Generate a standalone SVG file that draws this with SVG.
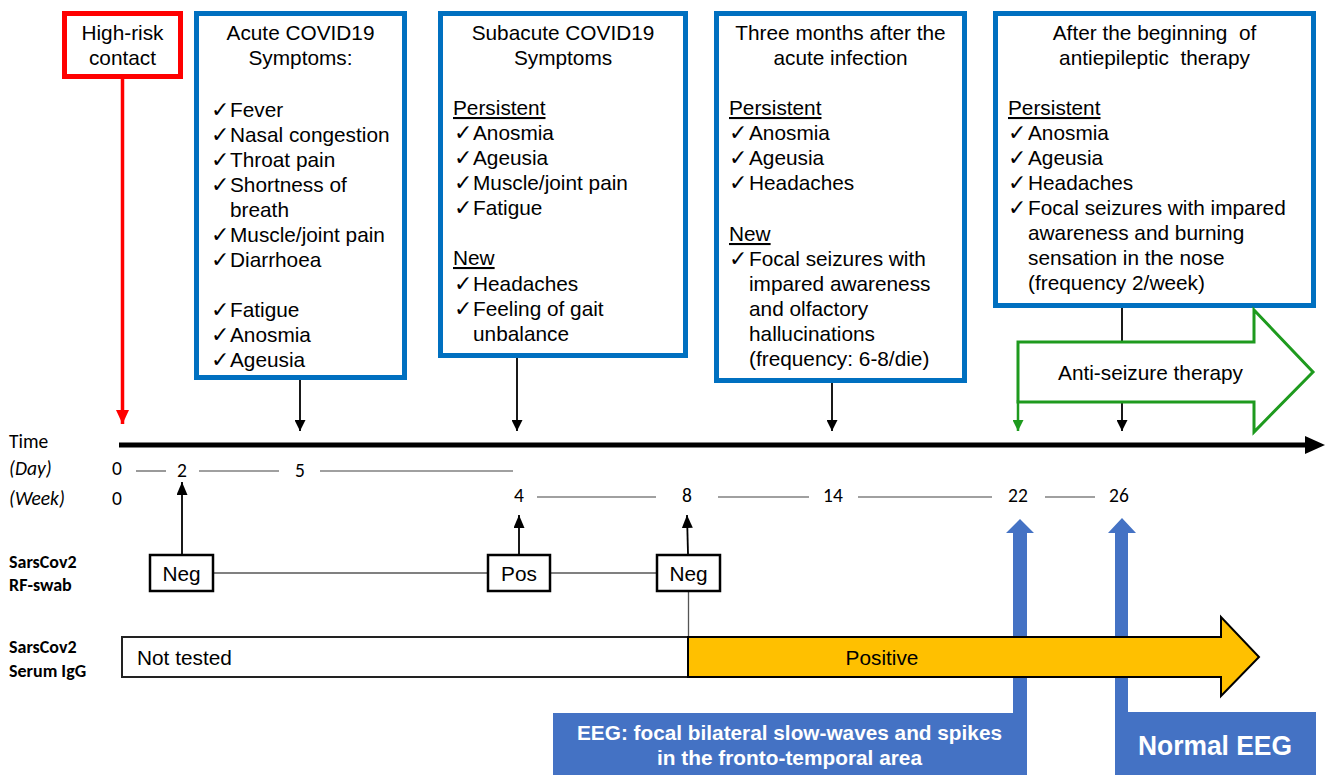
<svg xmlns="http://www.w3.org/2000/svg" width="1325" height="775" viewBox="0 0 1325 775">
<style>
  .t { font-family: "Liberation Sans", Arial, sans-serif; font-size: 20.8px; fill: #000; }
  .c { text-anchor: middle; }
  .ck { font-family: "DejaVu Sans", sans-serif; font-size: 22px; }
  .u { text-decoration: underline; }
  .pre { white-space: pre; }
  .cal { font-family: "Carlito", "Lato", "Liberation Sans", sans-serif; font-size: 19.5px; fill: #000; }
  .it { font-style: italic; }
  .lb { font-family: "Carlito", "Lato", "Liberation Sans", sans-serif; font-size: 18px; font-weight: bold; fill: #000; }
  .bluebox { fill: #fff; stroke: #0070C0; stroke-width: 5; }
  .redbox { fill: #fff; stroke: #FF0000; stroke-width: 5; }
  .swab { fill: #fff; stroke: #000; stroke-width: 2.5; }
  .dash { stroke: #808080; stroke-width: 1.6; }
  .arr { stroke: #000; stroke-width: 1.8; fill: none; }
  .eeg { fill: #4472C4; }
  .wt { font-family: "Liberation Sans Narrow", "Liberation Sans", Arial, sans-serif; font-weight: bold; fill: #fff; }
</style>
<defs>
  <marker id="ah" markerUnits="userSpaceOnUse" markerWidth="11" markerHeight="11" refX="10" refY="5" orient="auto" viewBox="0 0 10 10">
    <path d="M0,0 L10,5 L0,10 z" fill="#000"/>
  </marker>
  <marker id="ahu" markerUnits="userSpaceOnUse" markerWidth="13" markerHeight="11" refX="13" refY="5.5" orient="auto" viewBox="0 0 13 11">
    <path d="M0,0 L13,5.5 L0,11 z" fill="#000"/>
  </marker>
  <marker id="ahr" markerUnits="userSpaceOnUse" markerWidth="14" markerHeight="13" refX="14" refY="6.5" orient="auto" viewBox="0 0 14 13">
    <path d="M0,0 L14,6.5 L0,13 z" fill="#FF0000"/>
  </marker>
  <marker id="ahg" markerUnits="userSpaceOnUse" markerWidth="11" markerHeight="11" refX="10" refY="5" orient="auto" viewBox="0 0 10 10">
    <path d="M0,0 L10,5 L0,10 z" fill="#1E9A1E"/>
  </marker>
</defs>
<rect width="1325" height="775" fill="#fff"/>

<g id="connectors">
  <line x1="122.5" y1="79" x2="122.5" y2="424" stroke="#FF0000" stroke-width="3.5" marker-end="url(#ahr)"/>
  <line class="arr" x1="300" y1="380" x2="300" y2="431" marker-end="url(#ah)"/>
  <line class="arr" x1="517" y1="358" x2="517" y2="431" marker-end="url(#ah)"/>
  <line class="arr" x1="832" y1="383" x2="832" y2="431" marker-end="url(#ah)"/>
  <line class="arr" x1="1122" y1="308" x2="1122" y2="431" marker-end="url(#ah)"/>
  <line x1="1018" y1="400" x2="1018" y2="431" stroke="#1E9A1E" stroke-width="2.5" marker-end="url(#ahg)"/>
  <line class="arr" stroke-width="2" x1="182" y1="554" x2="182" y2="482" marker-end="url(#ahu)"/>
  <line class="arr" stroke-width="2" x1="519" y1="554" x2="519" y2="515" marker-end="url(#ahu)"/>
  <line class="arr" stroke-width="2" x1="688" y1="554" x2="687" y2="515" marker-end="url(#ahu)"/>
  <line x1="214" y1="573" x2="487" y2="573" stroke="#808080" stroke-width="1.8"/>
  <line x1="551" y1="573" x2="656" y2="573" stroke="#808080" stroke-width="1.8"/>
  <line x1="688.5" y1="592" x2="688.5" y2="637" stroke="#555" stroke-width="1.3"/>
</g>

<g id="high-risk">
  <rect class="redbox" x="64.5" y="13.5" width="116" height="63"/>
  <text class="t c" x="122.5" y="40">High-risk</text>
  <text class="t c" x="122.5" y="65">contact</text>
</g>

<g id="acute">
  <rect class="bluebox" x="196.5" y="13.5" width="208" height="364"/>
  <text class="t c" x="300.5" y="40">Acute COVID19</text>
  <text class="t c" x="300.5" y="65">Symptoms:</text>
  <text class="t" y="116.5"><tspan class="ck" x="211">✓</tspan><tspan x="230">Fever</tspan></text>
  <text class="t" y="141.5"><tspan class="ck" x="211">✓</tspan><tspan x="230">Nasal congestion</tspan></text>
  <text class="t" y="166.5"><tspan class="ck" x="211">✓</tspan><tspan x="230">Throat pain</tspan></text>
  <text class="t" y="191.5"><tspan class="ck" x="211">✓</tspan><tspan x="230">Shortness of</tspan></text>
  <text class="t" x="230" y="216.5">breath</text>
  <text class="t" y="241.5"><tspan class="ck" x="211">✓</tspan><tspan x="230">Muscle/joint pain</tspan></text>
  <text class="t" y="266.5"><tspan class="ck" x="211">✓</tspan><tspan x="230">Diarrhoea</tspan></text>
  <text class="t" y="316.5"><tspan class="ck" x="211">✓</tspan><tspan x="230">Fatigue</tspan></text>
  <text class="t" y="341.5"><tspan class="ck" x="211">✓</tspan><tspan x="230">Anosmia</tspan></text>
  <text class="t" y="366.5"><tspan class="ck" x="211">✓</tspan><tspan x="230">Ageusia</tspan></text>
</g>

<g id="subacute">
  <rect class="bluebox" x="440.5" y="13.5" width="245" height="342"/>
  <text class="t c" x="563" y="40">Subacute COVID19</text>
  <text class="t c" x="563" y="65">Symptoms</text>
  <text class="t u" x="453" y="115">Persistent</text>
  <text class="t" y="140"><tspan class="ck" x="454">✓</tspan><tspan x="473">Anosmia</tspan></text>
  <text class="t" y="165"><tspan class="ck" x="454">✓</tspan><tspan x="473">Ageusia</tspan></text>
  <text class="t" y="190"><tspan class="ck" x="454">✓</tspan><tspan x="473">Muscle/joint pain</tspan></text>
  <text class="t" y="215"><tspan class="ck" x="454">✓</tspan><tspan x="473">Fatigue</tspan></text>
  <text class="t u" x="453" y="265">New</text>
  <text class="t" y="291"><tspan class="ck" x="454">✓</tspan><tspan x="473">Headaches</tspan></text>
  <text class="t" y="316"><tspan class="ck" x="454">✓</tspan><tspan x="473">Feeling of gait</tspan></text>
  <text class="t" x="473" y="341">unbalance</text>
</g>

<g id="three-months">
  <rect class="bluebox" x="716.5" y="13.5" width="248" height="367"/>
  <text class="t c" x="840.5" y="40">Three months after the</text>
  <text class="t c" x="840.5" y="65">acute infection</text>
  <text class="t u" x="729" y="115">Persistent</text>
  <text class="t" y="140"><tspan class="ck" x="729">✓</tspan><tspan x="749">Anosmia</tspan></text>
  <text class="t" y="165"><tspan class="ck" x="729">✓</tspan><tspan x="749">Ageusia</tspan></text>
  <text class="t" y="190"><tspan class="ck" x="729">✓</tspan><tspan x="749">Headaches</tspan></text>
  <text class="t u" x="729" y="241">New</text>
  <text class="t" y="266"><tspan class="ck" x="729">✓</tspan><tspan x="749">Focal seizures with</tspan></text>
  <text class="t" x="749" y="291">impared awareness</text>
  <text class="t" x="749" y="316">and olfactory</text>
  <text class="t" x="749" y="341">hallucinations</text>
  <text class="t" x="749" y="366">(frequency: 6-8/die)</text>
</g>

<g id="after-therapy">
  <rect class="bluebox" x="995.5" y="13.5" width="318" height="292"/>
  <text class="t c pre" x="1154.5" y="40">After the beginning  of</text>
  <text class="t c pre" x="1154.5" y="65">antiepileptic  therapy</text>
  <text class="t u" x="1008" y="115">Persistent</text>
  <text class="t" y="140"><tspan class="ck" x="1008">✓</tspan><tspan x="1028">Anosmia</tspan></text>
  <text class="t" y="165"><tspan class="ck" x="1008">✓</tspan><tspan x="1028">Ageusia</tspan></text>
  <text class="t" y="190"><tspan class="ck" x="1008">✓</tspan><tspan x="1028">Headaches</tspan></text>
  <text class="t" y="215"><tspan class="ck" x="1008">✓</tspan><tspan x="1028">Focal seizures with impared</tspan></text>
  <text class="t" x="1028" y="240">awareness and burning</text>
  <text class="t" x="1028" y="265">sensation in the nose</text>
  <text class="t" x="1028" y="290">(frequency 2/week)</text>
</g>

<g id="anti-seizure">
  <path d="M1018,342 H1254 V310 L1313,372 L1254,432 V402 H1018 Z" fill="#fff" stroke="#1E9A1E" stroke-width="3" stroke-linejoin="miter"/>
  <text class="t c" x="1150.5" y="380">Anti-seizure therapy</text>
</g>

<g id="timeline">
  <line x1="119" y1="445" x2="1308" y2="445" stroke="#000" stroke-width="5"/>
  <polygon points="1305,436 1325,445 1305,454" fill="#000"/>
  <text class="cal" x="9" y="448">Time</text>
  <text class="cal it" x="9" y="475">(Day)</text>
  <text class="cal it" x="9" y="505">(Week)</text>
  <text class="cal c" x="117" y="475">0</text>
  <text class="cal c" x="182" y="477">2</text>
  <text class="cal c" x="300" y="477">5</text>
  <line class="dash" x1="136" y1="471" x2="166" y2="471"/>
  <line class="dash" x1="199" y1="471" x2="279" y2="471"/>
  <line class="dash" x1="320" y1="471" x2="513" y2="471"/>
  <text class="cal c" x="117" y="505">0</text>
  <text class="cal c" x="519" y="502">4</text>
  <text class="cal c" x="687" y="502">8</text>
  <text class="cal c" x="833" y="502">14</text>
  <text class="cal c" x="1018" y="502">22</text>
  <text class="cal c" x="1119" y="502">26</text>
  <line class="dash" x1="537" y1="497" x2="656" y2="497"/>
  <line class="dash" x1="718" y1="497" x2="809" y2="497"/>
  <line class="dash" x1="858" y1="497" x2="992" y2="497"/>
  <line class="dash" x1="1045" y1="497" x2="1095" y2="497"/>
</g>

<g id="swab-labels">
  <text class="lb" x="9" y="568">SarsCov2</text>
  <text class="lb" x="9" y="591">RF-swab</text>
  <text class="lb" x="9" y="653">SarsCov2</text>
  <text class="lb" x="9" y="677">Serum IgG</text>
</g>

<g id="swab-neg1">
  <rect class="swab" x="150" y="555" width="63" height="36"/>
  <text class="t c" font-size="19" x="181.5" y="581">Neg</text>
</g>
<g id="swab-pos">
  <rect class="swab" x="488" y="555" width="62" height="36"/>
  <text class="t c" font-size="19" x="519" y="581">Pos</text>
</g>
<g id="swab-neg2">
  <rect class="swab" x="657" y="555" width="63" height="36"/>
  <text class="t c" font-size="19" x="688.5" y="581">Neg</text>
</g>

<g id="eeg-arrows">
  <polygon class="eeg" points="1013,714 1013,533 1006,533 1020,519 1034,533 1027,533 1027,714"/>
  <polygon class="eeg" points="1115,714 1115,533 1108,533 1122,518 1136,533 1128,533 1128,714"/>
</g>

<g id="igg-not-tested">
  <rect x="122" y="637" width="566" height="40" fill="#fff" stroke="#222" stroke-width="2"/>
  <text class="t" x="137" y="665">Not tested</text>
</g>

<g id="igg-positive">
  <path d="M688,637 H1221 V617 L1259,657 L1221,696 V677 H688 Z" fill="#FFC000" stroke="#000" stroke-width="2"/>
  <text class="t c" x="882" y="665">Positive</text>
</g>

<g id="eeg-abnormal">
  <rect class="eeg" x="553" y="713" width="474" height="62"/>
  <text class="wt" font-size="20" x="577" y="740" textLength="425" lengthAdjust="spacingAndGlyphs">EEG: focal bilateral slow-waves and spikes</text>
  <text class="wt" font-size="20" x="657" y="765" textLength="265" lengthAdjust="spacingAndGlyphs">in the fronto-temporal area</text>
</g>

<g id="eeg-normal">
  <rect class="eeg" x="1115" y="712" width="201" height="63"/>
  <text class="wt" font-size="27" x="1138" y="755" textLength="154" lengthAdjust="spacingAndGlyphs">Normal EEG</text>
</g>
</svg>
